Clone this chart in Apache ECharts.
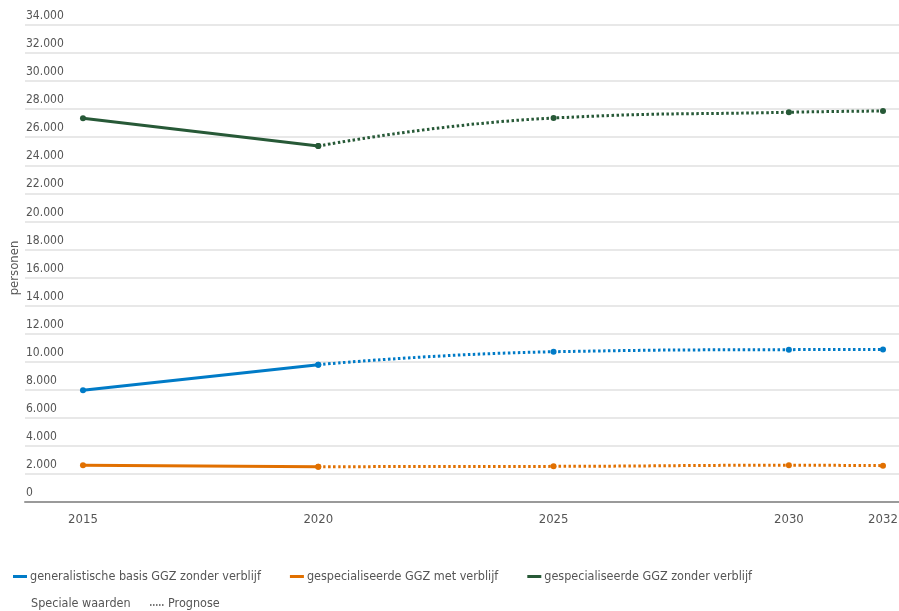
<!DOCTYPE html>
<html>
<head>
<meta charset="utf-8">
<script src="https://cdn.jsdelivr.net/npm/echarts@6/dist/echarts.min.js"></script>
<style>
  html, body { margin: 0; padding: 0; background: #fff; }
  #chart { width: 899px; height: 611px; }
</style>
</head>
<body>
<div id="chart"></div>
<script>
// Jaartallen: gemeten jaren en prognosejaren
const measuredYears = [2015, 2020];
const forecastYears = [2020, 2025, 2030, 2032];
const yearTicks = [2015, 2020, 2025, 2030, 2032];

// Aantal personen per zorgvorm
const basisMeasured = [7960, 9790];
const basisForecast = [9790, 10710, 10860, 10870];
const metVerblijfMeasured = [2620, 2520];
const metVerblijfForecast = [2520, 2540, 2620, 2590];
const zonderVerblijfMeasured = [27350, 25370];
const zonderVerblijfForecast = [25370, 27370, 27780, 27870];

const seriesNames = [
  'generalistische basis GGZ zonder verblijf',
  'gespecialiseerde GGZ met verblijf',
  'gespecialiseerde GGZ zonder verblijf'
];
const colors = ['#007bc7', '#e17000', '#275937'];

const FONT = '"DejaVu Sans Condensed", "DejaVu Sans", sans-serif';

function pairs(xs, ys) { return xs.map((x, i) => [x, ys[i]]); }

function solid(name, color, values) {
  return {
    name, type: 'line', data: pairs(measuredYears, values),
    color, symbol: 'circle', symbolSize: 6,
    lineStyle: { width: 3, color },
    itemStyle: { color }, z: 3
  };
}
function dotted(name, color, values) {
  return {
    name, type: 'line', data: pairs(forecastYears, values),
    color, symbol: 'circle', symbolSize: 6, smooth: true,
    lineStyle: { width: 3, color, type: [2.5, 2.5] },
    itemStyle: { color }, z: 2
  };
}

const chart = echarts.init(document.getElementById('chart'));
chart.setOption({
  animation: false,
  textStyle: { fontFamily: FONT },
  grid: { left: 25, right: 0, top: 25, bottom: 109, containLabel: false, outerBoundsMode: 'none' },
  xAxis: {
    type: 'value', min: 2013.768, max: 2032.34,
    splitLine: { show: false },
    axisLine: { lineStyle: { color: '#9a9a9a', width: 2 } },
    axisTick: { show: false },
    axisLabel: {
      customValues: yearTicks, color: '#555', fontSize: 13, margin: 11,
      formatter: v => String(v)
    }
  },
  yAxis: {
    type: 'value', min: 0, max: 34000, interval: 2000,
    axisLine: { show: false }, axisTick: { show: false },
    splitLine: { lineStyle: { color: '#e8e8e8', width: 2 } },
    axisLabel: {
      inside: true, align: 'left', verticalAlign: 'bottom', margin: 1,
      padding: [0, 0, 3, 0], color: '#555', fontSize: 12,
      formatter: v => v === 0 ? '0' : (v / 1000).toFixed(0) + '.000'
    }
  },
  legend: {
    left: 8, top: 565, itemGap: 29,
    data: seriesNames.map((n, i) => ({ name: n, icon: 'rect', itemStyle: { color: colors[i] } })),
    itemWidth: 14, itemHeight: 3,
    textStyle: { color: '#555', fontSize: 12.5, fontFamily: FONT, padding: [0, 0, 0, -2] }
  },
  graphic: [
    // titel van de verticale as
    { type: 'text', x: 15, y: 268, rotation: Math.PI / 2,
      style: { text: 'personen', fill: '#555', font: '13px ' + FONT,
               align: 'center', verticalAlign: 'middle' } },
    { type: 'text', left: 31, top: 597,
      style: { text: 'Speciale waarden', fill: '#555', font: '12.5px ' + FONT } },
    { type: 'line', shape: { x1: 150, y1: 605, x2: 164, y2: 605 },
      style: { stroke: '#777', lineWidth: 2, lineDash: [1.5, 1.5] } },
    { type: 'text', left: 168, top: 597,
      style: { text: 'Prognose', fill: '#555', font: '12.5px ' + FONT } }
  ],
  series: [
    solid(seriesNames[0], colors[0], basisMeasured),
    dotted(seriesNames[0], colors[0], basisForecast),
    solid(seriesNames[1], colors[1], metVerblijfMeasured),
    dotted(seriesNames[1], colors[1], metVerblijfForecast),
    solid(seriesNames[2], colors[2], zonderVerblijfMeasured),
    dotted(seriesNames[2], colors[2], zonderVerblijfForecast)
  ]
});
</script>
</body>
</html>
